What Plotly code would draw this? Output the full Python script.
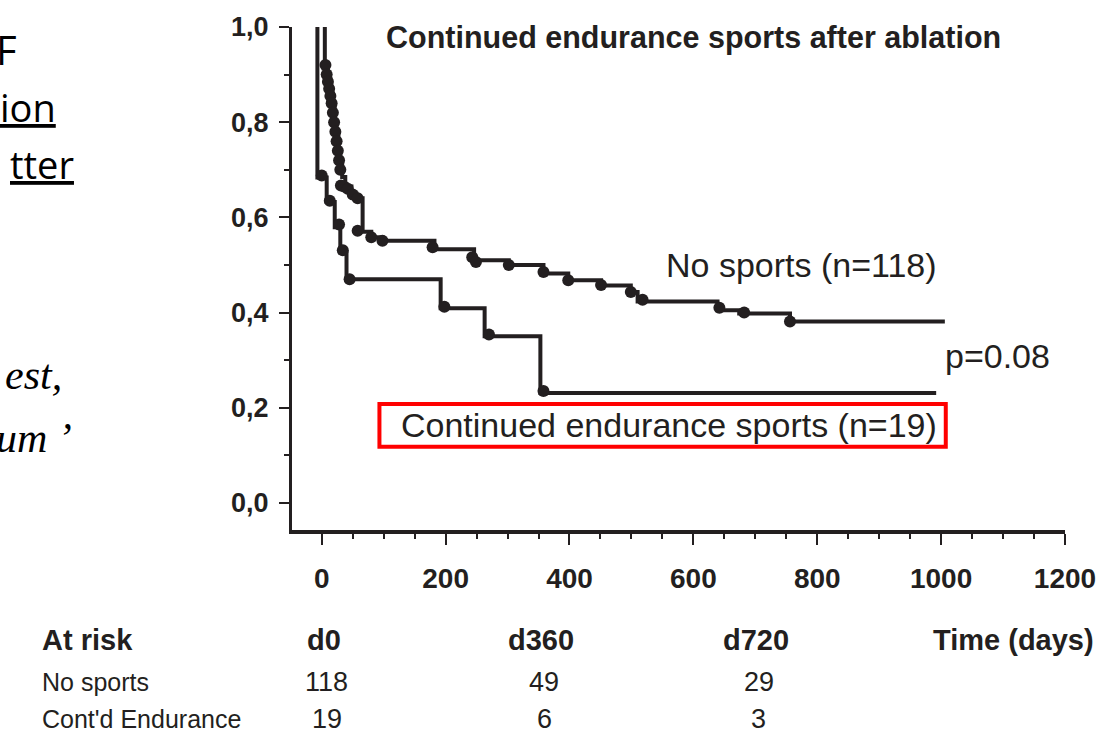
import plotly.graph_objects as go

# Kaplan-Meier steps (days, freedom from AF)
no_sports_days = [5, 5, 10, 14, 18, 21, 24, 27, 30, 33, 38, 48, 56, 66, 80, 98, 182, 246, 302, 358, 398, 451, 499, 510, 639, 674, 756, 1006]
no_sports_surv = [1.0, 0.915, 0.89, 0.86, 0.83, 0.80, 0.77, 0.74, 0.71, 0.685, 0.665, 0.65, 0.64, 0.57, 0.558, 0.551, 0.533, 0.51, 0.50, 0.482, 0.468, 0.457, 0.443, 0.423, 0.405, 0.398, 0.381, 0.381]

endurance_days = [-7, -7, 8, 21, 30, 40, 192, 263, 353, 992]
endurance_surv = [1.0, 0.684, 0.632, 0.579, 0.526, 0.47, 0.409, 0.35, 0.231, 0.231]

# dots drawn on the curves
no_sports_dot_days = [6, 8, 10, 12, 14, 16, 18, 20, 22, 24, 26, 28, 30, 31, 36, 42, 50, 58, 58, 80, 98, 179, 243, 249, 302, 358, 398, 451, 499, 518, 642, 682, 756]
no_sports_dot_surv = [0.92, 0.90, 0.885, 0.87, 0.855, 0.84, 0.82, 0.80, 0.78, 0.76, 0.74, 0.72, 0.70, 0.667, 0.665, 0.66, 0.648, 0.64, 0.572, 0.558, 0.551, 0.537, 0.516, 0.506, 0.50, 0.485, 0.468, 0.458, 0.443, 0.427, 0.41, 0.40, 0.381]
endurance_dot_days = [0, 13, 28, 34, 45, 198, 270, 358]
endurance_dot_surv = [0.688, 0.635, 0.585, 0.531, 0.47, 0.412, 0.354, 0.235]

# at-risk table
risk_headers = ["d0", "d360", "d720"]
risk_no_sports = [118, 49, 29]
risk_endurance = [19, 6, 3]

INK = "#231f20"
SANS = "Liberation Sans, Arial, sans-serif"
W, H = 1108, 735
L, R, T, B = 292, 38, 23, 205


def px(x, y):
    """pixel position -> paper coordinates"""
    return (x - L) / (W - L - R), (H - B - y) / (H - T - B)


fig = go.Figure()
fig.add_trace(go.Scatter(x=no_sports_days, y=no_sports_surv, mode="lines",
                         line=dict(color=INK, width=4, shape="hv"), hoverinfo="skip"))
fig.add_trace(go.Scatter(x=endurance_days, y=endurance_surv, mode="lines",
                         line=dict(color=INK, width=4, shape="hv"), hoverinfo="skip"))
fig.add_trace(go.Scatter(x=no_sports_dot_days, y=no_sports_dot_surv, mode="markers",
                         marker=dict(color=INK, size=12), hoverinfo="skip"))
fig.add_trace(go.Scatter(x=endurance_dot_days, y=endurance_dot_surv, mode="markers",
                         marker=dict(color=INK, size=12), hoverinfo="skip"))

annotations = []


def note(text, x, y, size, xanchor="center", bold=False, family=SANS, italic=False):
    ax, ay = px(x, y)
    annotations.append(dict(
        text=text, x=ax, y=ay, xref="paper", yref="paper", showarrow=False,
        xanchor=xanchor, yanchor="middle",
        font=dict(family=family, size=size, color=INK if family == SANS else "black",
                  weight="bold" if bold else "normal", style="italic" if italic else "normal"),
    ))


note("Continued endurance sports after ablation", 696, 34, 30.5, bold=True)
note("No sports (n=118)", 943, 263, 34, xanchor="right")
note("p=0.08", 947, 355, 34, xanchor="left")
note("Continued endurance sports (n=19)", 943, 424, 34, xanchor="right")

# at-risk table
col_x = [324, 543, 759]
note("At risk", 38, 641, 29, xanchor="left", bold=True)
note("No sports", 38, 683, 25, xanchor="left")
note("Cont'd Endurance", 38, 721, 25, xanchor="left")
for cx, hd, a, b in zip(col_x, risk_headers, risk_no_sports, risk_endurance):
    note(hd, cx, 641, 29, bold=True)
    note(str(a), cx + 3, 683, 27)
    note(str(b), cx + 3, 721, 27)
note("Time (days)", 1018, 641, 29, bold=True)

# cut-off slide text on the left
SLIDE = "Open Sans, Noto Sans, sans-serif"
note("F", 17, 46, 40, xanchor="right", family=SLIDE)
note("<u>ion</u>", 56, 104, 38, xanchor="right", family=SLIDE)
note("<u>tter</u>", 75, 161, 38, xanchor="right", family=SLIDE)
note("est,", 63, 374, 42, xanchor="right", family="Liberation Serif, serif", italic=True)
note("um \u2019", 73, 437, 42, xanchor="right", family="Liberation Serif, serif", italic=True)

x0, y0 = px(380, 446)
x1, y1 = px(950, 403)
fig.add_shape(type="rect", xref="paper", yref="paper", x0=x0, y0=y0, x1=x1, y1=y1,
              line=dict(color="#ff0000", width=4))

fig.update_layout(
    width=W, height=H,
    margin=dict(l=L, r=R, t=T, b=B),
    plot_bgcolor="white", paper_bgcolor="white",
    showlegend=False,
    separators=", ",
    annotations=annotations,
    font=dict(family=SANS, color=INK),
)
fig.update_xaxes(
    range=[-48, 1200], showgrid=False, zeroline=False,
    showline=True, linecolor=INK, linewidth=4,
    ticks="outside", ticklen=11, tickwidth=2, tickcolor=INK,
    tick0=0, dtick=200, ticklabelstandoff=9,
    minor=dict(ticks="outside", ticklen=5, tickwidth=2, tickcolor=INK, dtick=50, tick0=0),
    tickfont=dict(family=SANS, size=28, weight="bold", color=INK),
)
fig.update_yaxes(
    range=[-0.057, 1.0], showgrid=False, zeroline=False,
    showline=True, linecolor=INK, linewidth=3,
    ticks="outside", ticklen=10, tickwidth=2, tickcolor=INK,
    tick0=0, dtick=0.2, tickformat=".1f", ticklabelstandoff=5,
    minor=dict(ticks="outside", ticklen=5, tickwidth=2, tickcolor=INK, dtick=0.1, tick0=0),
    tickfont=dict(family=SANS, size=27, weight="bold", color=INK),
)

# drop the default 8px page margin so the figure fills the window
fig.write_html(
    "out.html",
    config={"displayModeBar": False},
    post_script="document.body.style.margin='0';document.body.style.overflow='hidden';",
)
